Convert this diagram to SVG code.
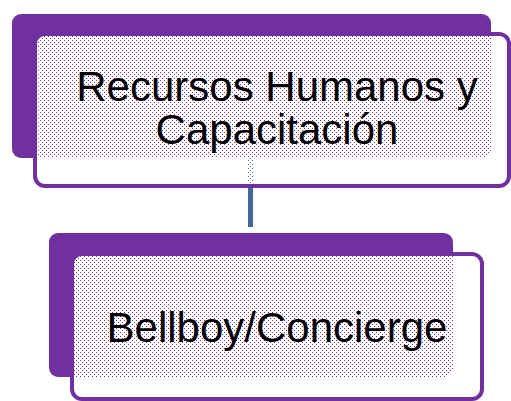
<svg xmlns="http://www.w3.org/2000/svg" width="511" height="401" viewBox="0 0 511 401">
<defs>
<pattern id="dots" width="4" height="4" patternUnits="userSpaceOnUse">
<path d="M0 0H4V4H0Z M0 0h1v1h-1Z M2 2h1v1h-1Z" fill="#ffffff" fill-rule="evenodd"/>
</pattern>
</defs>
<style>
.back{fill:#7030a0;}
.front{fill:url(#dots);stroke:#7030a0;stroke-width:4;}
.lbl{font-family:"Liberation Sans",Arial,sans-serif;font-size:42px;fill:#000000;text-anchor:middle;}
.conn{stroke:#41679b;stroke-width:5;fill:none;}
</style>
<rect width="511" height="401" fill="#ffffff"/>
<g id="connectors">
<line class="conn" x1="250.5" y1="158" x2="250.5" y2="227"/>
</g>
<g id="node-recursos">
<rect class="back" x="12" y="14" width="479" height="144" rx="9"/>
<rect class="front" x="35" y="34" width="474" height="152" rx="10"/>
<text class="lbl" x="277" y="101">Recursos Humanos y</text>
<text class="lbl" x="277" y="144">Capacitación</text>
</g>
<g id="node-bellboy">
<rect class="back" x="49" y="233" width="404" height="144" rx="9"/>
<rect class="front" x="72" y="254" width="410" height="145" rx="10"/>
<text class="lbl" x="277" y="342">Bellboy/Concierge</text>
</g>
</svg>
